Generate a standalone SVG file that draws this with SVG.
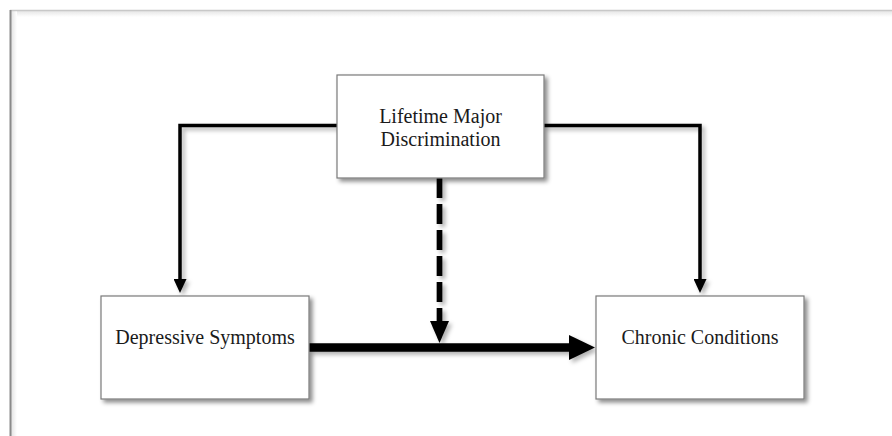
<svg xmlns="http://www.w3.org/2000/svg" width="892" height="436" viewBox="0 0 892 436">
  <defs>
    <filter id="shadow" x="-10%" y="-10%" width="130%" height="130%">
      <feDropShadow dx="3" dy="3" stdDeviation="2" flood-color="#000" flood-opacity="0.45"/>
    </filter>
    <filter id="lshadow" x="-50%" y="-50%" width="200%" height="200%">
      <feDropShadow dx="3" dy="3" stdDeviation="2" flood-color="#000" flood-opacity="0.3"/>
    </filter>
    <linearGradient id="topfade" x1="0" y1="0" x2="0" y2="1">
      <stop offset="0" stop-color="#e6e6e6"/>
      <stop offset="1" stop-color="#ffffff"/>
    </linearGradient>
    <linearGradient id="leftfade" x1="0" y1="0" x2="1" y2="0">
      <stop offset="0" stop-color="#e2e2e2"/>
      <stop offset="1" stop-color="#ffffff"/>
    </linearGradient>
    <marker id="arrowSmall" markerUnits="userSpaceOnUse" markerWidth="14" markerHeight="13" refX="6" refY="6.5" orient="auto">
      <path d="M0,0 L14,6.5 L0,13 z" fill="#000"/>
    </marker>
    <marker id="arrowDash" markerUnits="userSpaceOnUse" markerWidth="22" markerHeight="19" refX="1" refY="9.5" orient="auto">
      <path d="M0,0 L22,9.5 L0,19 z" fill="#000"/>
    </marker>
    <marker id="arrowThick" markerUnits="userSpaceOnUse" markerWidth="26" markerHeight="25" refX="1" refY="12.5" orient="auto">
      <path d="M0,0 L26,12.5 L0,25 z" fill="#000"/>
    </marker>
  </defs>
  <style>
    .box { fill: #ffffff; stroke: #7a7a7a; stroke-width: 1.2; }
    .label { font-family: "Liberation Serif", "Times New Roman", serif; font-size: 20px; fill: #1a1a1a; text-anchor: middle; }
    .conn { fill: none; stroke: #000; }
    .thin { stroke-width: 3.5; marker-end: url(#arrowSmall); }
    .dash { stroke-width: 5.7; stroke-dasharray: 20 6; marker-end: url(#arrowDash); }
    .thick { stroke-width: 8.5; marker-end: url(#arrowThick); }
  </style>

  <rect x="0" y="0" width="892" height="436" fill="#ffffff"/>
  <!-- frame -->
  <rect x="11" y="11" width="881" height="6" fill="url(#topfade)"/>
  <rect x="11" y="11" width="6" height="425" fill="url(#leftfade)"/>
  <line x1="10" y1="10.5" x2="892" y2="10.5" stroke="#c8c8c8" stroke-width="1.5"/>
  <line x1="10.5" y1="10" x2="10.5" y2="436" stroke="#8a8a8a" stroke-width="2"/>

  <g id="connectors" filter="url(#lshadow)">
    <path class="conn thin" d="M337,125.5 H180 V285"/>
    <path class="conn thin" d="M544,125.5 H700 V285"/>
    <path class="conn dash" d="M439.5,178 V322"/>
    <path class="conn thick" d="M309,347.5 H570"/>
  </g>

  <g id="node-discrimination">
    <rect class="box" x="337" y="75" width="207" height="103" filter="url(#shadow)"/>
    <text class="label" x="440.5" y="123">Lifetime Major</text>
    <text class="label" x="440.5" y="146">Discrimination</text>
  </g>

  <g id="node-depressive">
    <rect class="box" x="101" y="296" width="208" height="103" filter="url(#shadow)"/>
    <text class="label" x="205" y="344">Depressive Symptoms</text>
  </g>

  <g id="node-chronic">
    <rect class="box" x="596" y="296" width="208" height="103" filter="url(#shadow)"/>
    <text class="label" x="700" y="343.5">Chronic Conditions</text>
  </g>
</svg>
